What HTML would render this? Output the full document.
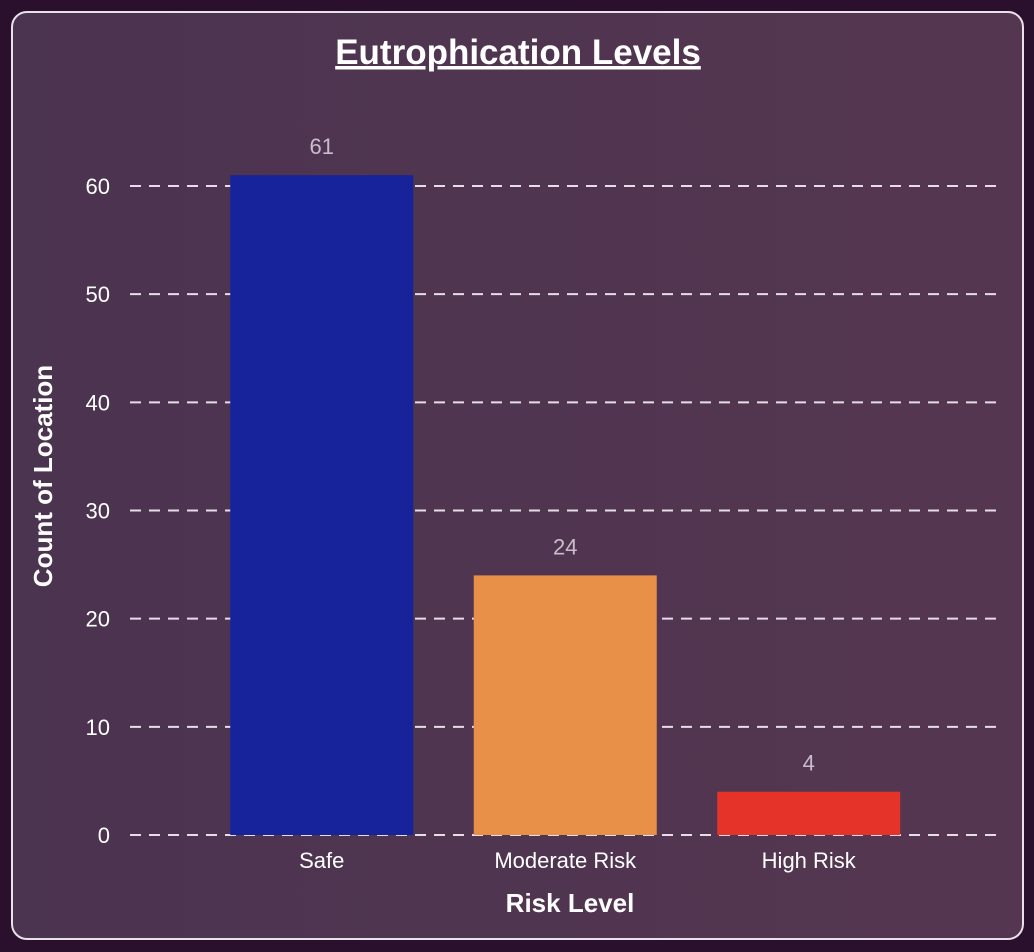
<!DOCTYPE html>
<html><head><meta charset="utf-8"><style>
html,body{margin:0;padding:0;width:1034px;height:952px;background:#2a102c;overflow:hidden;font-family:"Liberation Sans",sans-serif}
#card{position:absolute;left:11px;top:11px;width:1009px;height:925px;border:2px solid #e8e0ea;border-radius:16px;background:linear-gradient(90deg,#4b3450,#553650);}
svg{position:absolute;left:0;top:0}
</style></head><body>
<div id="card"></div>
<svg id="chart" width="1034" height="952">
<text x="518" y="64" text-anchor="middle" font-size="35" font-weight="bold" fill="#fff" text-decoration="underline">Eutrophication Levels</text>
<text transform="translate(52,476) rotate(-90)" text-anchor="middle" font-size="26" font-weight="bold" fill="#fff">Count of Location</text>
<text x="570" y="912" text-anchor="middle" font-size="26" font-weight="bold" fill="#fff">Risk Level</text>
</svg>
<script>
const categories=["Safe","Moderate Risk","High Risk"];
const values=[61,24,4];
const colors=["#16239a","#e88f48","#e5332a"];
const yTicks=[0,10,20,30,40,50,60];
const svg=document.getElementById('chart');
const NS="http://www.w3.org/2000/svg";
const y0=835,pxPerUnit=(835-186)/60;
const y=v=>y0-v*pxPerUnit;
const bandStart=200,band=243.5;
const x=i=>bandStart+band*i+band/2;
const barW=183;
function mk(t,a){const e=document.createElementNS(NS,t);for(const k in a)e.setAttribute(k,a[k]);svg.appendChild(e);return e;}
yTicks.forEach(v=>{
  const l=mk('line',{x1:130,x2:1000,y1:y(v),y2:y(v),stroke:'#e6dde8','stroke-width':2,'stroke-dasharray':'11 8'});
  
  
  const t=mk('text',{x:110,y:y(v)+8,'text-anchor':'end','font-size':22,fill:'#fff'});
  t.textContent=v;
  
  
});
categories.forEach((c,i)=>{
  const r=mk('rect',{x:x(i)-barW/2,y:y(values[i]),width:barW,height:y0-y(values[i]),fill:colors[i]});
  
  
  const lb=mk('text',{x:x(i),y:y(values[i])-21,'text-anchor':'middle','font-size':22,fill:'#c9bccb'});
  lb.textContent=values[i];
  
  
  const xt=mk('text',{x:x(i),y:868,'text-anchor':'middle','font-size':22,fill:'#fff'});
  xt.textContent=c;
  
  
});
</script>
</body></html>
